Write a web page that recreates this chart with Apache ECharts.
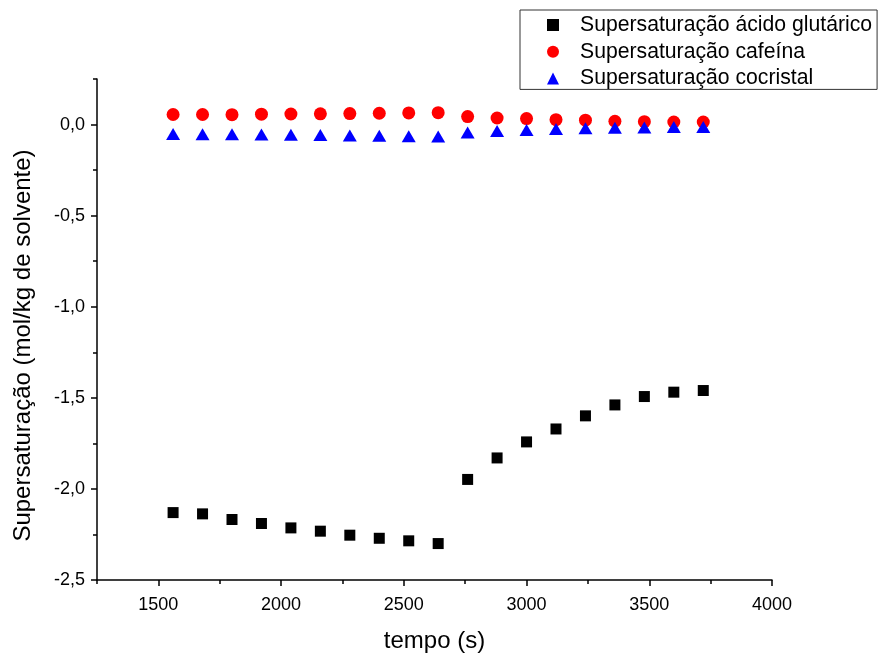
<!DOCTYPE html>
<html>
<head>
<meta charset="utf-8">
<script src="https://cdn.jsdelivr.net/npm/echarts@6/dist/echarts.min.js"></script>
<style>
html,body{margin:0;padding:0;background:#fff;}
#chart{width:879px;height:658px;}
</style>
</head>
<body>
<div id="chart"></div>
<script>
const time = [1560,1680,1800,1920,2040,2160,2280,2400,2520,2640,2760,2880,3000,3120,3240,3360,3480,3600,3720];
const glutarico = [-2.130,-2.137,-2.168,-2.190,-2.214,-2.232,-2.254,-2.271,-2.285,-2.300,-1.948,-1.830,-1.742,-1.671,-1.599,-1.539,-1.493,-1.469,-1.460];
const cafeina = [0.055,0.055,0.054,0.057,0.058,0.059,0.060,0.062,0.064,0.065,0.044,0.036,0.033,0.027,0.024,0.018,0.016,0.014,0.014];
const cocristal = [-0.052,-0.053,-0.053,-0.055,-0.056,-0.058,-0.060,-0.062,-0.064,-0.066,-0.043,-0.035,-0.030,-0.025,-0.021,-0.018,-0.016,-0.013,-0.013];
const seriesNames = ['Supersaturação ácido glutárico','Supersaturação cafeína','Supersaturação cocristal'];
const xMajorTicks = [1500,2000,2500,3000,3500,4000];
const xMinorTicks = [1250,1750,2250,2750,3250,3750];
const yMajorTicks = [-2.5,-2.0,-1.5,-1.0,-0.5,0.0];
const yMinorTicks = [-2.25,-1.75,-1.25,-0.75,-0.25,0.25];

const pair = (xs, ys) => xs.map((x, i) => [x, ys[i]]);
const FONT = '"Liberation Sans", Arial, sans-serif';
const axisLineStyle = {color:'#000', width:1.5};

const chart = echarts.init(document.getElementById('chart'));
chart.setOption({
  animation: false,
  backgroundColor: '#fff',
  textStyle: {fontFamily: FONT},
  grid: {left:97, right:107, top:79, bottom:78, containLabel:false},
  legend: {
    orient: 'vertical',
    left: 520, top: 10,
    padding: [4, 5, 0, 27],
    itemGap: 4.7,
    itemWidth: 12,
    itemHeight: 12,
    borderColor: '#333',
    borderWidth: 1,
    textStyle: {fontFamily: FONT, fontSize: 21.2, color:'#000', lineHeight: 22, padding:[0,0,0,16]},
    data: seriesNames
  },
  xAxis: [
    {
      type:'value', min:1250, max:4000, position:'bottom',
      name:'tempo (s)', nameLocation:'middle', nameGap:49,
      nameTextStyle:{fontFamily:FONT, fontSize:24, color:'#000'},
      axisLine:{show:true, onZero:false, lineStyle:axisLineStyle},
      axisTick:{show:true, customValues:xMajorTicks, length:6, lineStyle:axisLineStyle},
      axisLabel:{customValues:xMajorTicks, fontFamily:FONT, fontSize:18, color:'#000', margin:16,
        formatter: v => String(v)},
      splitLine:{show:false}
    },
    {
      type:'value', min:1250, max:4000, position:'bottom',
      axisLine:{show:false, onZero:false},
      axisTick:{show:true, customValues:xMinorTicks, length:4, lineStyle:axisLineStyle},
      axisLabel:{show:false},
      splitLine:{show:false}
    }
  ],
  yAxis: [
    {
      type:'value', min:-2.5, max:0.25, position:'left',
      name:'Supersaturação (mol/kg de solvente)', nameLocation:'middle', nameGap:62,
      nameTextStyle:{fontFamily:FONT, fontSize:24, color:'#000', padding:[0,32,0,0]},
      axisLine:{show:true, onZero:false, lineStyle:axisLineStyle},
      axisTick:{show:true, customValues:yMajorTicks, length:6, lineStyle:axisLineStyle},
      axisLabel:{customValues:yMajorTicks, fontFamily:FONT, fontSize:18, color:'#000', margin:12,
        formatter: v => v.toFixed(1).replace('.', ',')},
      splitLine:{show:false}
    },
    {
      type:'value', min:-2.5, max:0.25, position:'left',
      axisLine:{show:false, onZero:false},
      axisTick:{show:true, customValues:yMinorTicks, length:4, lineStyle:axisLineStyle},
      axisLabel:{show:false},
      splitLine:{show:false}
    }
  ],
  series: [
    {name:seriesNames[0], type:'scatter', symbol:'rect', symbolSize:11,
     itemStyle:{color:'#000', opacity:1}, data: pair(time, glutarico)},
    {name:seriesNames[1], type:'scatter', symbol:'circle', symbolSize:13,
     itemStyle:{color:'#ff0000', opacity:1}, data: pair(time, cafeina)},
    {name:seriesNames[2], type:'scatter', symbol:'triangle', symbolSize:[14,12],
     itemStyle:{color:'#0000ff', opacity:1}, data: pair(time, cocristal)}
  ]
});
</script>
</body>
</html>
